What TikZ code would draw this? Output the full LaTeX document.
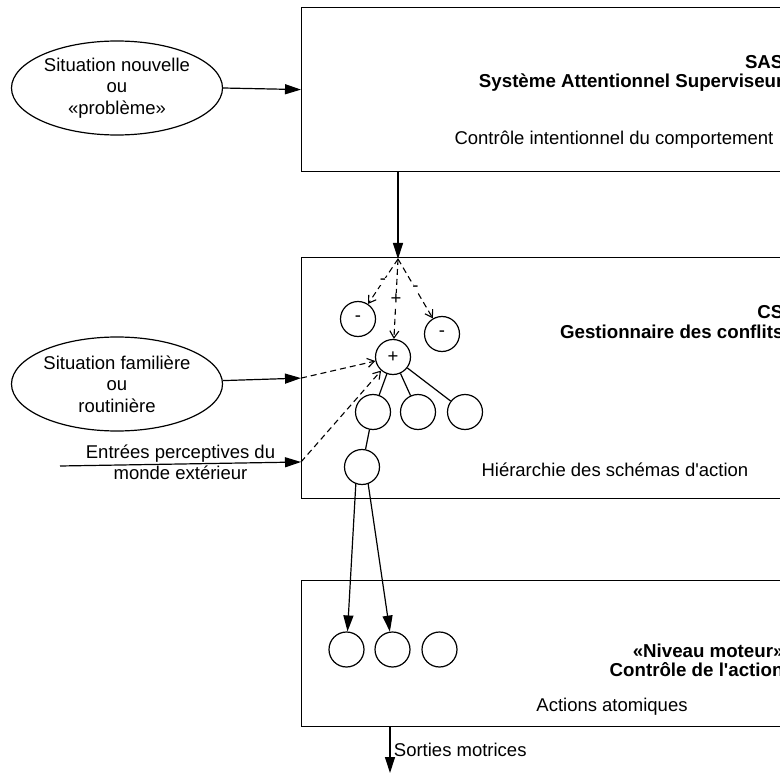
\documentclass[tikz,border=0pt]{standalone}
\usepackage{fontspec}
\setmainfont{Liberation Sans}[Ligatures=TeXOff]
\usetikzlibrary{arrows.meta}
\usetikzlibrary{shapes.geometric}
\tikzset{>={Triangle[width=10pt,length=16pt]}}
\tikzset{
	boite/.style={draw, line width=1.2pt, rectangle, anchor=north west, minimum width=520pt},
	bulle/.style={draw, line width=1.2pt, ellipse, minimum width=211pt, minimum height=94pt, inner sep=0pt, align=center, font=\fontsize{18.5}{21.5}\selectfont},
	rond/.style={draw, line width=1.2pt, circle, minimum size=35pt, inner sep=0pt, font=\fontsize{18.5}{21.5}\selectfont},
	pointille/.style={line width=1.1pt, dash pattern=on 6pt off 4pt, -{Straight Barb[length=7pt,width=9pt]}},
	signe/.style={fill=white, inner sep=1pt, font=\fontsize{18.5}{21.5}\selectfont},
	texte/.style={font=\fontsize{18.5}{21.5}\selectfont, align=center},
	titre/.style={font=\bfseries\fontsize{18.7}{19.5}\selectfont, align=right, anchor=east},
	fleche/.style={line width=1.2pt, ->}
}
\begin{document}
\begin{tikzpicture}[x=1pt,y=-1pt]
		\useasboundingbox (0,0) rectangle (780,773);
		\clip (0,0) rectangle (780,773);
		\begin{scope}
			%les trois niveaux
			\node[boite, minimum height=164pt] (sas) at (301,7) {};
			\node[boite, minimum height=241pt] (cs) at (301,257) {};
			\node[boite, minimum height=146pt] (moteur) at (301,580) {};
			%titres
			\node[titre] (titresas) at (787,73.5) {SAS\\Système Attentionnel Superviseur};
			\node[texte, anchor=west] (rolesas) at (451,140) {Contrôle intentionnel du comportement};
			\node[titre] (titrecs) at (787,322) {CS\\Gestionnaire des conflits};
			\node[texte, anchor=west] (rolecs) at (478,470) {Hiérarchie des schémas d'action};
			\node[titre] (titremoteur) at (787,660.5) {«Niveau moteur»\\Contrôle de l'action};
			\node[texte] (rolemoteur) at (612,707) {Actions atomiques};
		\end{scope}
		\begin{scope}
			%situations
			\node[bulle] (nouvelle) at (117,88) {Situation nouvelle\\ou\\«problème»};
			\node[bulle] (familiere) at (117,384) {Situation familière\\ou\\routinière};
			\coordinate (entree) at (60,466);
			\coordinate (porte) at (301,462);
			\coordinate (sommet) at (398,259);
			\coordinate (sortie) at (390,773);
			%schemas
			\node[rond] (moinsg) at (358,319) {-};
			\node[rond] (moinsd) at (442,334) {-};
			\node[rond] (plus) at (393,357) {+};
			\node[rond] (f1) at (373,412) {};
			\node[rond] (f2) at (418,412) {};
			\node[rond] (f3) at (465,412) {};
			\node[rond] (f4) at (362,467) {};
			%actions
			\node[rond] (a1) at (346.5,649.5) {};
			\node[rond] (a2) at (392.5,649.5) {};
			\node[rond] (a3) at (439.5,649.5) {};
		\end{scope}
		%arbre
		\draw[line width=1.2pt] (plus) -- (f1);
		\draw[line width=1.2pt] (plus) -- (f2);
		\draw[line width=1.2pt] (plus) -- (f3);
		\draw[line width=1.2pt] (f1) -- (f4);
		%fleches pleines
		\draw[fleche] (nouvelle.east) -- (sas.west);
		\draw[fleche] (familiere) -- (cs.west);
		\draw[fleche] (entree) -- (porte) node[midway, above, texte, inner sep=1pt] (percept) {Entrées perceptives du} node[midway, below, texte, inner sep=1pt] (monde) {monde extérieur};
		\draw[fleche] (sas.south -| sommet) -- (sommet);
		\draw[fleche] (f4.250) -- (a1);
		\draw[fleche] (f4.290) -- (a2);
		\draw[fleche] (moteur.south -| sortie) -- (sortie) node[midway, right, texte] (sorties) {Sorties motrices};
		%activation et inhibition
		\draw[pointille] (sommet) -- (moinsg) node[midway, signe] {-};
		\draw[pointille] (sommet) -- (moinsd) node[midway, signe] {-};
		\draw[pointille] (sommet) -- (plus) node[midway, signe] {+};
		\draw[pointille] (cs.west) -- (plus);
		\draw[pointille] (porte) -- (plus);
	\end{tikzpicture}
\end{document}
